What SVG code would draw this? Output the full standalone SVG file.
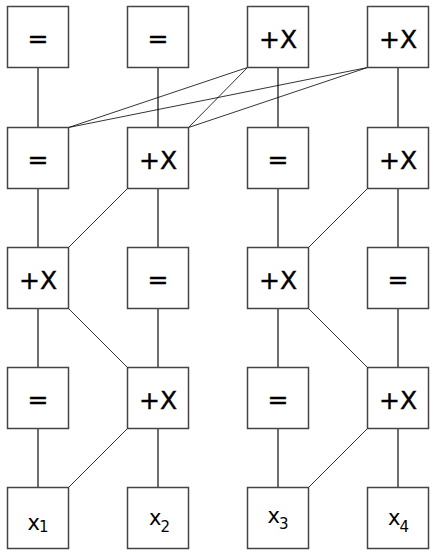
<svg xmlns="http://www.w3.org/2000/svg" width="437" height="556" viewBox="0 0 437 556">
<defs>
<style>
.box{fill:#fff;stroke:#444;stroke-width:1.5}
.v{stroke:#6e6e6e;stroke-width:2;fill:none}
.d{stroke:#000;stroke-width:0.8;fill:none}
.op{font-family:"DejaVu Sans",sans-serif;font-size:25px;fill:#000;stroke:#000;stroke-width:0.4;text-anchor:middle}
.var{font-family:"DejaVu Sans",sans-serif;font-size:21px;fill:#000}
.sub{font-size:15px}
</style>
</defs>
<rect width="437" height="556" fill="#fff"/>
<g id="connectors">
<line class="v" x1="38" y1="37" x2="38" y2="518"/>
<line class="v" x1="158" y1="37" x2="158" y2="518"/>
<line class="v" x1="278" y1="37" x2="278" y2="518"/>
<line class="v" x1="398" y1="37" x2="398" y2="518"/>
<line class="d" x1="247.5" y1="67.5" x2="68.5" y2="127.5"/>
<line class="d" x1="247.5" y1="67.5" x2="188.5" y2="127.5"/>
<line class="d" x1="367.5" y1="67.5" x2="68.5" y2="127.5"/>
<line class="d" x1="367.5" y1="67.5" x2="188.5" y2="127.5"/>
<line class="d" x1="127.5" y1="188.5" x2="68.5" y2="247.5"/>
<line class="d" x1="367.5" y1="188.5" x2="308.5" y2="247.5"/>
<line class="d" x1="68.5" y1="308.5" x2="127.5" y2="367.5"/>
<line class="d" x1="308.5" y1="308.5" x2="367.5" y2="367.5"/>
<line class="d" x1="127.5" y1="428.5" x2="68.5" y2="487.5"/>
<line class="d" x1="367.5" y1="428.5" x2="308.5" y2="487.5"/>
</g>
<g id="n11"><rect class="box" x="7.5" y="6.5" width="61" height="61"/><text class="op" x="38" y="47">=</text></g>
<g id="n12"><rect class="box" x="127.5" y="6.5" width="61" height="61"/><text class="op" x="158" y="47">=</text></g>
<g id="n13"><rect class="box" x="247.5" y="6.5" width="61" height="61"/><text class="op" x="278" y="47.5">+X</text></g>
<g id="n14"><rect class="box" x="367.5" y="6.5" width="61" height="61"/><text class="op" x="398" y="47.5">+X</text></g>
<g id="n21"><rect class="box" x="7.5" y="127.5" width="61" height="61"/><text class="op" x="38" y="168">=</text></g>
<g id="n22"><rect class="box" x="127.5" y="127.5" width="61" height="61"/><text class="op" x="158" y="168.5">+X</text></g>
<g id="n23"><rect class="box" x="247.5" y="127.5" width="61" height="61"/><text class="op" x="278" y="168">=</text></g>
<g id="n24"><rect class="box" x="367.5" y="127.5" width="61" height="61"/><text class="op" x="398" y="168.5">+X</text></g>
<g id="n31"><rect class="box" x="7.5" y="247.5" width="61" height="61"/><text class="op" x="38" y="288.5">+X</text></g>
<g id="n32"><rect class="box" x="127.5" y="247.5" width="61" height="61"/><text class="op" x="158" y="288">=</text></g>
<g id="n33"><rect class="box" x="247.5" y="247.5" width="61" height="61"/><text class="op" x="278" y="288.5">+X</text></g>
<g id="n34"><rect class="box" x="367.5" y="247.5" width="61" height="61"/><text class="op" x="398" y="288">=</text></g>
<g id="n41"><rect class="box" x="7.5" y="367.5" width="61" height="61"/><text class="op" x="38" y="408">=</text></g>
<g id="n42"><rect class="box" x="127.5" y="367.5" width="61" height="61"/><text class="op" x="158" y="408.5">+X</text></g>
<g id="n43"><rect class="box" x="247.5" y="367.5" width="61" height="61"/><text class="op" x="278" y="408">=</text></g>
<g id="n44"><rect class="box" x="367.5" y="367.5" width="61" height="61"/><text class="op" x="398" y="408.5">+X</text></g>
<g id="x1"><rect class="box" x="7.5" y="487.5" width="61" height="61"/><text class="var" x="27.5" y="530">x<tspan class="sub" dx="-1" dy="1.7">1</tspan></text></g>
<g id="x2"><rect class="box" x="127.5" y="487.5" width="61" height="61"/><text class="var" x="149" y="525">x<tspan class="sub" dx="-1" dy="7">2</tspan></text></g>
<g id="x3"><rect class="box" x="247.5" y="487.5" width="61" height="61"/><text class="var" x="267.5" y="522.7">x<tspan class="sub" dx="-1" dy="6.6">3</tspan></text></g>
<g id="x4"><rect class="box" x="367.5" y="487.5" width="61" height="61"/><text class="var" x="388" y="525">x<tspan class="sub" dx="-1" dy="7">4</tspan></text></g>
</svg>
